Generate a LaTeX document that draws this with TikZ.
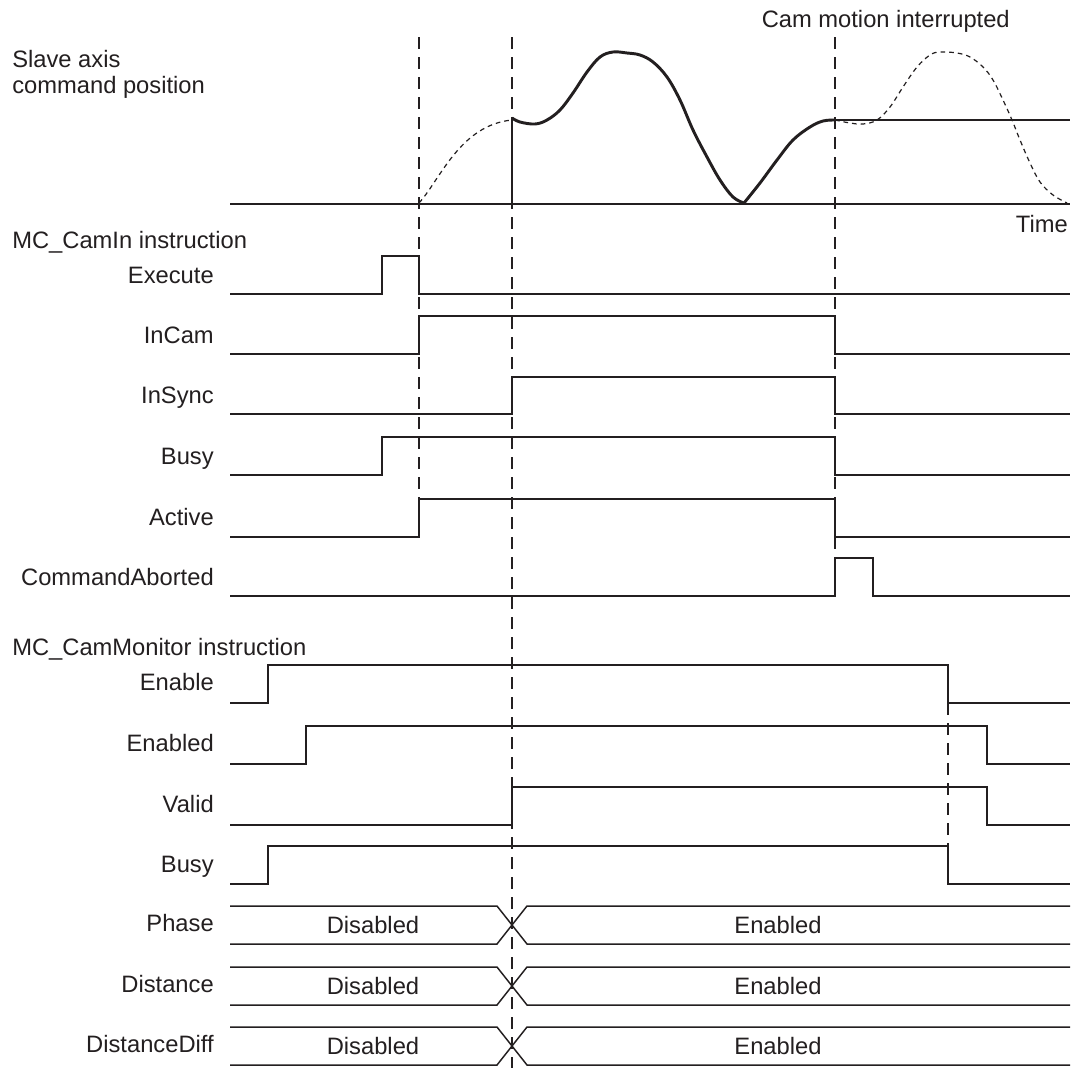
\documentclass[tikz,border=0pt]{standalone}
\usepackage{fontspec}
\setmainfont{Liberation Sans}
\definecolor{ink}{HTML}{231F20}
\begin{document}
\begin{tikzpicture}[x=0.75pt,y=-0.75pt,
  sig/.style={draw=ink,line width=1.1pt,line join=miter},
  guide/.style={draw=ink,line width=1.3pt,dash pattern=on 9pt off 6pt},
  cam/.style={draw=ink,line width=2.2pt,line join=round},
  ghost/.style={draw=ink,line width=0.9pt,dash pattern=on 3.5pt off 3pt},
  lbl/.style={anchor=base east,inner sep=0pt,text=ink,font=\fontsize{17.8}{21}\selectfont},
  head/.style={anchor=base west,inner sep=0pt,text=ink,font=\fontsize{17.8}{21}\selectfont},
  bus/.style={anchor=base,inner sep=0pt,text=ink,font=\fontsize{17.8}{21}\selectfont}]
\useasboundingbox (0,0) rectangle (1077,1068);
\fill[white] (0,0) rectangle (1077,1068);

% guide lines
\draw[guide] (419,37) -- (419,499);
\draw[guide] (512,37) -- (512,1068);
\draw[guide] (835,37) -- (835,558);
\draw[guide] (948,703) -- (948,846);

% headings
\node[head] (h1) at (12,67) {Slave axis};
\node[head] (h2) at (12,93) {command position};
\node[head] (h3) at (12,248) {MC\_CamIn instruction};
\node[head] (h4) at (12,655) {MC\_CamMonitor instruction};
\node[lbl] (time) at (1068,232) {Time};
\node[lbl] (cmi) at (1010,27) {Cam motion interrupted};

% position plot
\draw[sig] (230,204) -- (1070,204);
\draw[ghost] (419,203) .. controls (440,180) and (460,125) .. (512,120);
\draw[ghost] plot[smooth,tension=0.6] coordinates {(835,120) (850,123) (863,124) (877,120) (890,107) (903,87) (917,67) (930,55) (940,52) (957,53) (970,57) (983,67) (993,80) (1003,100) (1012,120) (1020,140) (1030,163) (1040,182) (1053,195) (1067,203)};
\draw[cam] (512,204) -- (512,118);
\draw[cam] plot[smooth,tension=0.6] coordinates {(512,118) (520,122) (535,124) (547,120) (560,110) (573,93) (587,72) (600,57) (613,52) (627,53) (640,55) (653,62) (667,77) (680,100) (693,130) (707,157) (720,180) (733,197) (744,203)};
\draw[cam] plot[smooth,tension=0.6] coordinates {(744,203) (760,183) (777,160) (793,140) (810,127) (823,121) (835,120)};
\draw[cam] (835,120) -- (1070,120);

% MC_CamIn signals
\node[lbl] (lExecute) at (214,283) {Execute};
\draw[sig] (230,294) -- (382,294) -- (382,256) -- (419,256) -- (419,294) -- (1070,294);
\node[lbl] (lInCam) at (214,343) {InCam};
\draw[sig] (230,354) -- (419,354) -- (419,316) -- (835,316) -- (835,354) -- (1070,354);
\node[lbl] (lInSync) at (214,403) {InSync};
\draw[sig] (230,414) -- (512,414) -- (512,377) -- (835,377) -- (835,414) -- (1070,414);
\node[lbl] (lBusy) at (214,464) {Busy};
\draw[sig] (230,475) -- (382,475) -- (382,437) -- (835,437) -- (835,475) -- (1070,475);
\node[lbl] (lActive) at (214,525) {Active};
\draw[sig] (230,537) -- (419,537) -- (419,499) -- (835,499) -- (835,537) -- (1070,537);
\node[lbl] (lCA) at (214,585) {CommandAborted};
\draw[sig] (230,596) -- (835,596) -- (835,558) -- (873,558) -- (873,596) -- (1070,596);

% MC_CamMonitor signals
\node[lbl] (lEnable) at (214,690) {Enable};
\draw[sig] (230,703) -- (268,703) -- (268,665) -- (948,665) -- (948,703) -- (1070,703);
\node[lbl] (lEnabled) at (214,751) {Enabled};
\draw[sig] (230,764) -- (306,764) -- (306,726) -- (987,726) -- (987,764) -- (1070,764);
\node[lbl] (lValid) at (214,812) {Valid};
\draw[sig] (230,825) -- (512,825) -- (512,787) -- (987,787) -- (987,825) -- (1070,825);
\node[lbl] (lBusy2) at (214,872) {Busy};
\draw[sig] (230,884) -- (268,884) -- (268,846) -- (948,846) -- (948,884) -- (1070,884);

% bus signals
\foreach \t/\b/\name/\nm in {906/944/Phase/ph, 967/1005/Distance/di, 1027/1065/DistanceDiff/dd}{
  \draw[sig] (230,\t) -- (497,\t) -- (527,\b) -- (1070,\b);
  \draw[sig] (230,\b) -- (497,\b) -- (527,\t) -- (1070,\t);
  \node[lbl] (l\nm) at (214,{(\t+\b)/2+6.5}) {\name};
  \node[bus] (d\nm) at (373,{(\t+\b)/2+8.5}) {Disabled};
  \node[bus] (e\nm) at (778,{(\t+\b)/2+8.5}) {Enabled};
}
\end{tikzpicture}
\end{document}
